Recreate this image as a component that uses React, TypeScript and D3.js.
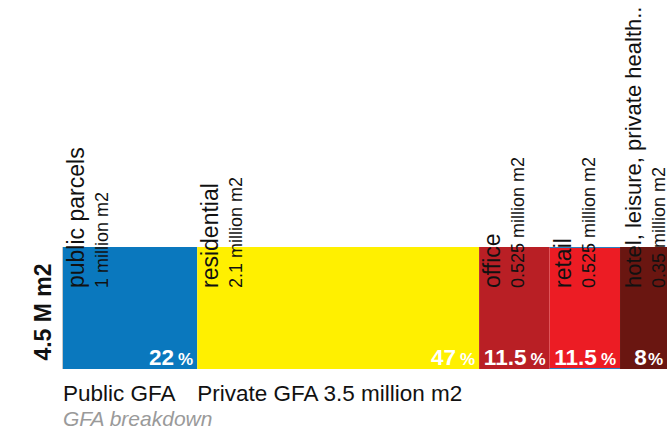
import React from "react";
import * as d3 from "d3";

const categories = ["public parcels", "residential", "office", "retail", "hotel, leisure, private health.."];
const areaLabels = ["1 million m2", "2.1 million m2", "0.525 million m2", "0.525 million m2", "0.35 million m2"];
const gfaValues = [1, 2.1, 0.525, 0.525, 0.35];
const percentLabels = ["22", "47", "11.5", "11.5", "8"];
const percentGaps = [true, true, true, true, false];
const groupLabels = ["Public GFA", "Private GFA 3.5 million m2"];
const groupStartIndex = [0, 1];
const totalLabel = "4.5 M m2";
const subtitle = "GFA breakdown";
const palette = ["#0a78be", "#fff000", "#b91f25", "#ec1c24", "#6a1611"];

const W = 668;
const H = 429;
const FONT = "'Liberation Sans', Arial, Helvetica, sans-serif";

export default function App() {
  const total = d3.sum(gfaValues);
  const x = d3.scaleLinear().domain([0, total]).range([63, 667]);
  const y0 = 247;
  const y1 = 369;
  const starts = gfaValues.map((_, i) => d3.sum(gfaValues.slice(0, i)));
  const bars = gfaValues.map((v, i) => ({
    x0: x(starts[i]),
    x1: x(starts[i] + v),
    i,
  }));
  const labelStartY = 288;
  // shrink long labels so they fit between start and top edge (approx 0.56em per char)
  const bigSize = (s: string) => Math.min(23, (labelStartY - 6) / (s.length * 0.4));

  return (
    <svg
      width={W}
      height={H}
      viewBox={`0 0 ${W} ${H}`}
      style={{ position: "absolute", left: 0, top: 0, background: "#fff" }}
      fontFamily={FONT}
    >
      <rect x={0} y={0} width={W} height={H} fill="#fff" />
      <line x1={x(0) - 0.5} x2={x(0) - 0.5} y1={y0} y2={y1} stroke="#c8c8c8" strokeWidth={1} />
      {bars.map((b) => (
        <rect key={"r" + b.i} x={b.x0} y={y0} width={b.x1 - b.x0} height={y1 - y0} fill={palette[b.i]} />
      ))}
      <line x1={bars[3].x0} x2={bars[3].x1} y1={y0 + 0.5} y2={y0 + 0.5} stroke="#2a7fc0" strokeWidth={1} />
      <line x1={bars[3].x0} x2={bars[3].x1} y1={y1 - 0.5} y2={y1 - 0.5} stroke="#2a7fc0" strokeWidth={1} />
      {bars.map((b) => (
        <g key={"l" + b.i}>
          <text
            transform={`translate(${b.x0 + 21},${labelStartY}) rotate(-90)`}
            fontSize={bigSize(categories[b.i])}
            fill="#111"
          >
            {categories[b.i]}
          </text>
          <text
            transform={`translate(${b.x0 + 45},${labelStartY}) rotate(-90)`}
            fontSize={18}
            fill="#111"
          >
            {areaLabels[b.i]}
          </text>
        </g>
      ))}
      {bars.map((b) => (
        <text
          key={"p" + b.i}
          x={b.x1 - 4}
          y={y1 - 4}
          textAnchor="end"
          fill="#fff"
          fontWeight="bold"
        >
          <tspan fontSize={22.5}>{percentLabels[b.i]}</tspan>
          <tspan fontSize={17} dx={percentGaps[b.i] ? 4 : 1}>%</tspan>
        </text>
      ))}
      <text
        transform={`translate(51,${(y0 + y1) / 2 + 4}) rotate(-90)`}
        textAnchor="middle"
        fontSize={23}
        fontWeight="bold"
        fill="#111"
      >
        {totalLabel}
      </text>
      {groupLabels.map((g, i) => (
        <text key={"g" + i} x={bars[groupStartIndex[i]].x0} y={401} fontSize={22.5} fill="#111">
          {g}
        </text>
      ))}
      <text x={x(0)} y={426} fontSize={21} fontStyle="italic" fill="#9a9a9a">
        {subtitle}
      </text>
    </svg>
  );
}
